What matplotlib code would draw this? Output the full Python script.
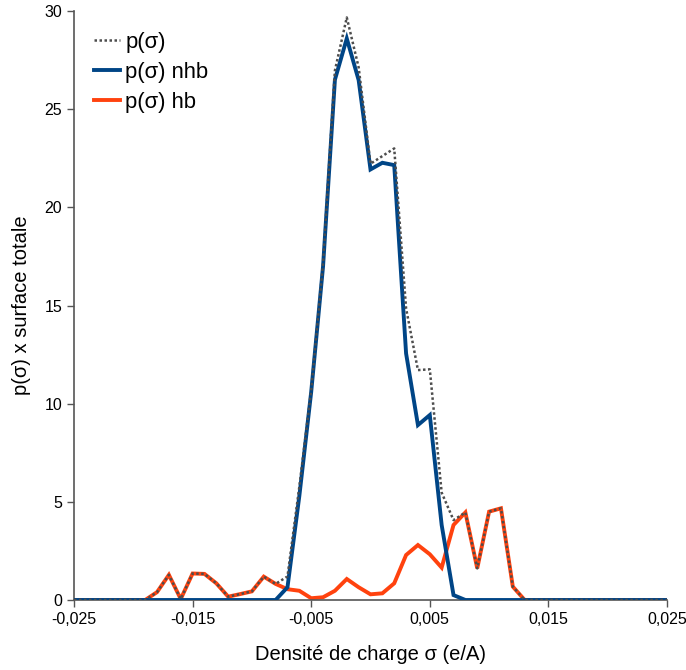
import numpy as np
import matplotlib
matplotlib.use("Agg")
import matplotlib.pyplot as plt
from matplotlib.ticker import FuncFormatter

plt.rcParams['font.family'] = ['Liberation Sans', 'DejaVu Sans']

# sigma grid (e/A), step 0.001 from -0.025 to 0.025
sigma = [round(-0.025 + 0.001 * i, 3) for i in range(51)]

# p(sigma) hb (orange)
p_hb = [0, 0, 0, 0, 0, 0,              # -0.025 .. -0.020
        0.00, 0.40, 1.28, 0.05, 1.35,  # -0.019 .. -0.015
        1.33, 0.85, 0.17, 0.30, 0.44,  # -0.014 .. -0.010
        1.19, 0.82, 0.55, 0.47, 0.09,  # -0.009 .. -0.005
        0.14, 0.47, 1.07, 0.65, 0.29,  # -0.004 .. 0.000
        0.34, 0.85, 2.29, 2.80, 2.33,  # 0.001 .. 0.005
        1.65, 3.82, 4.46, 1.61, 4.50,  # 0.006 .. 0.010
        4.67, 0.68, 0.00, 0, 0,        # 0.011 .. 0.015
        0, 0, 0, 0, 0,                 # 0.016 .. 0.020
        0, 0, 0, 0, 0]                 # 0.021 .. 0.025

# p(sigma) nhb (blue)
p_nhb = [0, 0, 0, 0, 0, 0,
         0, 0, 0, 0, 0,
         0, 0, 0, 0, 0,
         0, 0, 0.65, 5.30, 10.60,
         17.00, 26.50, 28.60, 26.48, 21.93,
         22.27, 22.15, 12.56, 8.91, 9.42,
         3.82, 0.25, 0.00, 0, 0,
         0, 0, 0, 0, 0,
         0, 0, 0, 0, 0,
         0, 0, 0, 0, 0]

# p(sigma) total (dotted)
p_tot = [0, 0, 0, 0, 0, 0,
         0.00, 0.40, 1.28, 0.05, 1.35,
         1.33, 0.85, 0.17, 0.30, 0.44,
         1.19, 0.82, 1.20, 5.77, 10.69,
         17.14, 26.97, 29.67, 27.13, 22.22,
         22.61, 23.00, 14.85, 11.71, 11.75,
         5.47, 4.07, 4.46, 1.61, 4.50,
         4.67, 0.68, 0.00, 0, 0,
         0, 0, 0, 0, 0,
         0, 0, 0, 0, 0]

xticks = [-0.025, -0.015, -0.005, 0.005, 0.015, 0.025]
yticks = [0, 5, 10, 15, 20, 25, 30]

fig = plt.figure(figsize=(6.86, 6.70), dpi=100)
ax = fig.add_axes([74 / 686, 70 / 670, (667 - 74) / 686, (600 - 11) / 670])

ax.plot(sigma, p_hb, color='#ff420e', lw=2.8, zorder=2, label='p(σ) hb',
        solid_joinstyle='miter')
ax.plot(sigma, p_nhb, color='#004586', lw=2.8, zorder=3, label='p(σ) nhb',
        solid_joinstyle='miter')
ax.plot(sigma, p_tot, color='#4d4d4d', lw=1.8, ls=(0, (1, 1)), zorder=4,
        label='p(σ)')

ax.set_xlim(-0.025, 0.025)
ax.set_ylim(0, 30)
ax.set_xticks(xticks)
ax.set_yticks(yticks)
ax.xaxis.set_major_formatter(FuncFormatter(lambda v, p: f"{v:.3f}".replace('.', ',')))
ax.tick_params(axis='both', labelsize=11.5, colors='#000000', length=5,
               width=1, direction='out')
ax.tick_params(axis='both', color='#555555')

for s in ['top', 'right']:
    ax.spines[s].set_visible(False)
for s in ['left', 'bottom']:
    ax.spines[s].set_color('#555555')
    ax.spines[s].set_linewidth(1.2)

ax.set_xlabel('Densité de charge σ (e/A)', fontsize=14.5, labelpad=13)
ax.set_ylabel('p(σ) x surface totale', fontsize=14.5, labelpad=10)

handles, labels = ax.get_legend_handles_labels()
order = [2, 1, 0]
ax.legend([handles[i] for i in order], [labels[i] for i in order],
          loc='upper left', bbox_to_anchor=(0.0195, 0.98), frameon=False,
          fontsize=15.8, handlelength=1.15, handletextpad=0.25, labelspacing=0.42,
          borderaxespad=0)

fig.savefig('out.png', dpi=100)
